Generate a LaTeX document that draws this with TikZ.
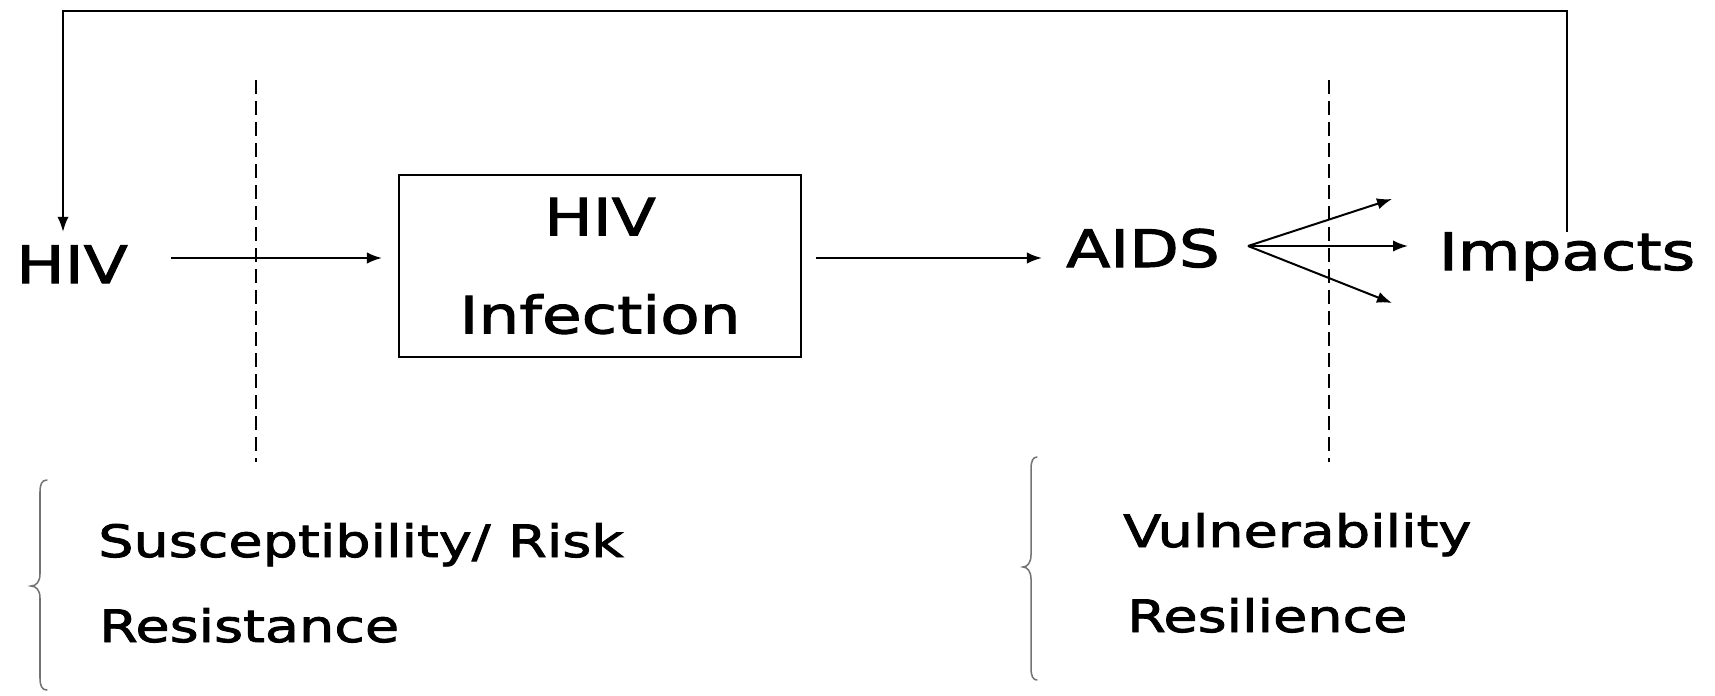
\documentclass[tikz,border=0pt]{standalone}
\usepackage{fontspec}
\setmainfont[FakeStretch=1.25,FakeBold=2]{DejaVu Sans}
\usetikzlibrary{arrows.meta}
\begin{document}
\begin{tikzpicture}[x=0.03cm,y=-0.03cm,
  arr/.style={line width=1.7pt,-{Latex[length=0.45cm,width=0.34cm]}},
  dashline/.style={line width=1.7pt,dash pattern=on 0.42cm off 0.21cm},
  bracestyle/.style={line width=1.3pt,black!55,line cap=round},
  big/.style={inner sep=0pt,anchor=base,font=\fontsize{44}{53}\selectfont},
  small/.style={inner sep=0pt,anchor=base west,font=\fontsize{38}{46}\selectfont},
  boxstyle/.style={draw,line width=1.7pt,inner sep=0pt,minimum width=12.06cm,minimum height=5.46cm,align=center,font=\fontsize{44}{83.6}\selectfont}]
\useasboundingbox (0,0) rectangle (1715,695);

% main nodes
\node[big] (hiv) at (72,283) {HIV};
\node[boxstyle] (box) at (600,266) {HIV\\Infection};
\node[big] (aids) at (1143,267) {AIDS};
\node[big] (imp) at (1567,270) {Impacts};

% bottom labels
\node[small] (sus) at (98,557) {Susceptibility/ Risk};
\node[small] (res) at (99,642) {Resistance};
\node[small] (vul) at (1123,547) {Vulnerability};
\node[small] (resil) at (1127,632) {Resilience};

% helper coordinates
\coordinate (ylev) at (0,258);
\coordinate (ctop) at (63,11);
\coordinate (fan) at (1248,246);
\coordinate (t1) at (1392,199);
\coordinate (t2) at (1408,246);
\coordinate (t3) at (1392,303);

% dashed separators
\coordinate (d1a) at (256,80);
\coordinate (d1b) at (256,462);
\coordinate (d2a) at (1329,80);
\coordinate (d2b) at (1329,462);
\draw[dashline] (d1a) -- (d1b);
\draw[dashline] (d2a) -- (d2b);

% arrows
\draw[arr,shorten <=1.29cm,shorten >=0.48cm] (hiv.east |- ylev) -- (box.west |- ylev);
\draw[arr,shorten <=0.42cm,shorten >=0.72cm] (box.east |- ylev) -- (aids.west |- ylev);
\draw[arr] (fan) -- (t1);
\draw[arr] (fan) -- (t2);
\draw[arr] (fan) -- (t3);
\draw[arr,shorten >=0.4cm] (imp.north) |- (ctop) -- (ctop |- hiv.north);

% braces
\draw[bracestyle] (47,480) .. controls (42,480) and (40,484) .. (40,492) -- (40,574)
  .. controls (40,582) and (36,586) .. (31,586) .. controls (36,586) and (40,590) .. (40,598)
  -- (40,678) .. controls (40,686) and (42,690) .. (47,690);
\draw[bracestyle] (1037,457) .. controls (1033,457) and (1031,461) .. (1031,469) -- (1031,555)
  .. controls (1031,563) and (1027,567) .. (1023,567) .. controls (1027,567) and (1031,571) .. (1031,579)
  -- (1031,668) .. controls (1031,676) and (1033,680) .. (1037,680);
\end{tikzpicture}
\end{document}
